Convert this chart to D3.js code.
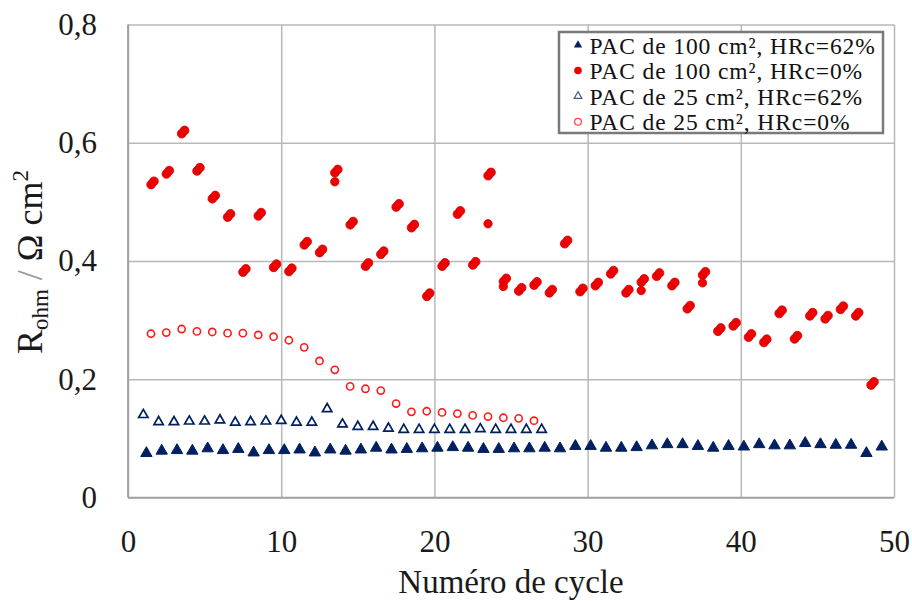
<!DOCTYPE html>
<html>
<head>
<meta charset="utf-8">
<script src="https://cdn.jsdelivr.net/npm/d3@7"></script>
<style>
    body { margin: 0; background: #fff; }
</style>
</head>
<body>
<div id="chart"></div>
<script>
// cycle numbers and R_ohm values
let tri100x = [1.2, 2.2, 3.2, 4.2, 5.2, 6.2, 7.2, 8.2, 9.2, 10.2, 11.2, 12.2, 13.2, 14.2, 15.2, 16.2, 17.2, 18.2, 19.2, 20.2,
    21.2, 22.2, 23.2, 24.2, 25.2, 26.2, 27.2, 28.2, 29.2, 30.2, 31.2, 32.2, 33.2, 34.2, 35.2, 36.2, 37.2, 38.2, 39.2, 40.2,
    41.2, 42.2, 43.2, 44.2, 45.2, 46.2, 47.2, 48.2, 49.2];
let tri100y = [0.075, 0.079, 0.080, 0.079, 0.083, 0.080, 0.082, 0.076, 0.080, 0.080, 0.081, 0.076, 0.081, 0.079, 0.081, 0.084, 0.081, 0.082, 0.083, 0.084,
    0.085, 0.084, 0.082, 0.082, 0.083, 0.083, 0.084, 0.083, 0.087, 0.087, 0.084, 0.084, 0.085, 0.088, 0.090, 0.090, 0.087, 0.084, 0.087, 0.086,
    0.090, 0.088, 0.088, 0.092, 0.090, 0.089, 0.089, 0.075, 0.086];

let circ100x = [1.6, 2.6, 3.6, 4.6, 5.6, 6.6, 7.6, 8.6, 9.6, 10.6, 11.6, 12.6, 13.6, 14.6, 15.6, 16.6, 17.6, 18.6, 19.6, 20.6,
    21.6, 22.6, 23.6, 24.6, 25.6, 26.6, 27.6, 28.6, 29.6, 30.6, 31.6, 32.6, 33.6, 34.6, 35.6, 36.6, 37.6, 38.6, 39.6, 40.6,
    41.6, 42.6, 43.6, 44.6, 45.6, 46.6, 47.6, 48.6];
let circ100y = [0.532, 0.550, 0.618, 0.555, 0.508, 0.477, 0.384, 0.479, 0.392, 0.385, 0.430, 0.417, 0.552, 0.464, 0.394, 0.414, 0.494, 0.459, 0.343, 0.394,
    0.482, 0.396, 0.547, 0.368, 0.352, 0.362, 0.349, 0.432, 0.351, 0.361, 0.381, 0.349, 0.367, 0.377, 0.361, 0.322, 0.379, 0.284, 0.293, 0.274,
    0.265, 0.314, 0.271, 0.310, 0.305, 0.321, 0.310, 0.193];
let circ100xb = [13.5, 23.5, 24.5, 33.5, 37.5];
let circ100yb = [0.534, 0.463, 0.357, 0.350, 0.363];

let tri25x = [1, 2, 3, 4, 5, 6, 7, 8, 9, 10, 11, 12, 13, 14, 15, 16, 17, 18, 19, 20, 21, 22, 23, 24, 25, 26, 27];
let tri25y = [0.140, 0.128, 0.128, 0.129, 0.129, 0.131, 0.127, 0.128, 0.129, 0.130, 0.127, 0.127, 0.150, 0.124, 0.120, 0.120, 0.117, 0.115, 0.115, 0.115,
    0.115, 0.115, 0.116, 0.115, 0.115, 0.115, 0.115];

let circ25x = [1.5, 2.5, 3.5, 4.5, 5.5, 6.5, 7.5, 8.5, 9.5, 10.5, 11.5, 12.5, 13.5, 14.5, 15.5, 16.5, 17.5, 18.5, 19.5, 20.5,
    21.5, 22.5, 23.5, 24.5, 25.5, 26.5];
let circ25y = [0.277, 0.279, 0.285, 0.281, 0.280, 0.278, 0.278, 0.275, 0.272, 0.266, 0.254, 0.231, 0.216, 0.188, 0.184, 0.181, 0.159, 0.145, 0.146, 0.144,
    0.142, 0.139, 0.137, 0.135, 0.134, 0.130];

let xTicks = [0, 10, 20, 30, 40, 50];
let yTicks = [0, 0.2, 0.4, 0.6, 0.8];
let legendLabels = [
    "PAC de 100 cm\u00b2, HRc=62%",
    "PAC de 100 cm\u00b2, HRc=0%",
    "PAC de 25 cm\u00b2, HRc=62%",
    "PAC de 25 cm\u00b2, HRc=0%"
];

const SERIF = "Liberation Serif, DejaVu Serif, Times New Roman, serif";

function drawChart() {
    let width = 912,
        height = 601,
        left = 128,
        right = 894,
        top = 24.4,
        bottom = 497.6,
        navy = "#002060",
        red = "#f00000";

    let svg = d3.select("#chart")
        .append("svg")
        .attr("width", width)
        .attr("height", height)
        .attr("font-family", SERIF);

    let x = d3.scaleLinear()
        .domain([0, 50])
        .range([left, right]);

    let y = d3.scaleLinear()
        .domain([0, 0.8])
        .range([bottom, top]);

    let zip = function (xs, ys) {
        return xs.map(function (d, i) {
            return { x: d, y: ys[i] };
        });
    };

    // grid + tick labels
    let yAxis = d3.axisLeft(y)
        .tickValues(yTicks)
        .tickSize(-(right - left))
        .tickPadding(31)
        .tickFormat(function (d) {
            return d === 0 ? "0" : d3.format(".1f")(d).replace(".", ",");
        });

    svg.append("g")
        .attr("class", "yaxis")
        .attr("transform", "translate(" + left + ",0)")
        .call(yAxis)
        .attr("font-family", SERIF);

    let xAxis = d3.axisBottom(x)
        .tickValues(xTicks)
        .tickSize(-(bottom - top))
        .tickPadding(32)
        .tickFormat(d3.format("d"));

    svg.append("g")
        .attr("class", "xaxis")
        .attr("transform", "translate(0," + bottom + ")")
        .call(xAxis)
        .attr("font-family", SERIF);

    svg.selectAll(".domain").remove();

    svg.selectAll(".yaxis .tick line, .xaxis .tick line")
        .style("stroke", "#b8b8b8")
        .style("stroke-width", 1.5);

    svg.selectAll(".yaxis .tick text, .xaxis .tick text")
        .attr("font-size", 31)
        .style("fill", "#1a1a1a");

    // axis lines
    svg.append("line")
        .attr("x1", left).attr("x2", left)
        .attr("y1", top).attr("y2", bottom)
        .style("stroke", "#a0a0a0")
        .style("stroke-width", 1.8);
    svg.append("line")
        .attr("x1", left).attr("x2", right)
        .attr("y1", bottom).attr("y2", bottom)
        .style("stroke", "#a0a0a0")
        .style("stroke-width", 1.8);

    let triFilled = d3.symbol().type(d3.symbolTriangle).size(56);
    let triOpen = d3.symbol().type(d3.symbolTriangle).size(38);

    // 100 cm2, HRc=62%
    svg.selectAll(".tri100")
        .data(zip(tri100x, tri100y))
        .enter()
        .append("path")
        .attr("class", "tri100")
        .attr("d", triFilled)
        .attr("transform", function (d) {
            return "translate(" + x(d.x) + "," + y(d.y) + ")";
        })
        .style("fill", navy)
        .style("stroke", navy)
        .style("stroke-width", 1);

    // 25 cm2, HRc=62%
    svg.selectAll(".tri25")
        .data(zip(tri25x, tri25y))
        .enter()
        .append("path")
        .attr("class", "tri25")
        .attr("d", triOpen)
        .attr("transform", function (d) {
            return "translate(" + x(d.x) + "," + y(d.y) + ")";
        })
        .style("fill", "white")
        .style("stroke", navy)
        .style("stroke-width", 1.7);

    // 25 cm2, HRc=0%
    svg.selectAll(".circ25")
        .data(zip(circ25x, circ25y))
        .enter()
        .append("circle")
        .attr("class", "circ25")
        .attr("cx", function (d) { return x(d.x); })
        .attr("cy", function (d) { return y(d.y); })
        .attr("r", 3.6)
        .style("fill", "white")
        .style("stroke", "#ff1a1a")
        .style("stroke-width", 1.6);

    // 100 cm2, HRc=0% : the markers show up doubled in the figure
    let dbl = [[-1.4, 1.6], [1.4, -1.6]];
    dbl.forEach(function (o) {
        svg.append("g")
            .selectAll("circle")
            .data(zip(circ100x, circ100y))
            .enter()
            .append("circle")
            .attr("cx", function (d) { return x(d.x) + o[0]; })
            .attr("cy", function (d) { return y(d.y) + o[1]; })
            .attr("r", 4.4)
            .style("fill", red)
            .style("stroke", "#d00000")
            .style("stroke-width", 0.8);
    });

    svg.append("g")
        .selectAll("circle")
        .data(zip(circ100xb, circ100yb))
        .enter()
        .append("circle")
        .attr("cx", function (d) { return x(d.x); })
        .attr("cy", function (d) { return y(d.y); })
        .attr("r", 4.2)
        .style("fill", red)
        .style("stroke", "#d00000")
        .style("stroke-width", 0.8);

    // legend
    let lg = svg.append("g").attr("transform", "translate(559,32)");
    lg.append("rect")
        .attr("width", 324)
        .attr("height", 101)
        .style("fill", "white")
        .style("stroke", "#7a7a7a")
        .style("stroke-width", 2.5);

    let rowY = d3.scalePoint()
        .domain(legendLabels)
        .range([13, 89.7]);

    let rows = lg.selectAll(".lrow")
        .data(legendLabels)
        .enter()
        .append("g")
        .attr("class", "lrow")
        .attr("transform", function (d) {
            return "translate(19," + rowY(d) + ")";
        });

    rows.append("text")
        .attr("x", 11.5)
        .attr("y", 8.5)
        .attr("font-size", 23.5)
        .attr("letter-spacing", 0.9)
        .style("fill", "#111")
        .text(function (d) { return d; });

    rows.each(function (d, i) {
        let g = d3.select(this);
        if (i === 0) {
            g.append("path")
                .attr("d", d3.symbol().type(d3.symbolTriangle).size(30))
                .style("fill", navy);
        } else if (i === 1) {
            g.append("circle").attr("r", 3.8).style("fill", red);
        } else if (i === 2) {
            g.append("path")
                .attr("d", d3.symbol().type(d3.symbolTriangle).size(26))
                .style("fill", "white")
                .style("stroke", "#4a5d8a")
                .style("stroke-width", 1.2);
        } else {
            g.append("circle")
                .attr("r", 3.4)
                .style("fill", "white")
                .style("stroke", "#ff4040")
                .style("stroke-width", 1.2);
        }
    });

    // axis titles
    svg.append("text")
        .attr("x", (left + right) / 2)
        .attr("y", 592.5)
        .attr("text-anchor", "middle")
        .attr("font-size", 33)
        .style("fill", "#1a1a1a")
        .text("Numéro de cycle");

    let yt = svg.append("text")
        .attr("transform", "translate(42,262) rotate(-90)")
        .attr("text-anchor", "middle")
        .attr("font-size", 36)
        .style("fill", "#1a1a1a");
    yt.append("tspan").text("R");
    yt.append("tspan").attr("font-size", 23).attr("dy", 6).text("ohm");
    yt.append("tspan").attr("dy", -6).style("fill", "#999").text(" / ");
    yt.append("tspan").text("\u03a9 cm");
    yt.append("tspan").attr("font-size", 23).attr("dy", -14).text("2");
}

drawChart();
</script>
</body>
</html>
